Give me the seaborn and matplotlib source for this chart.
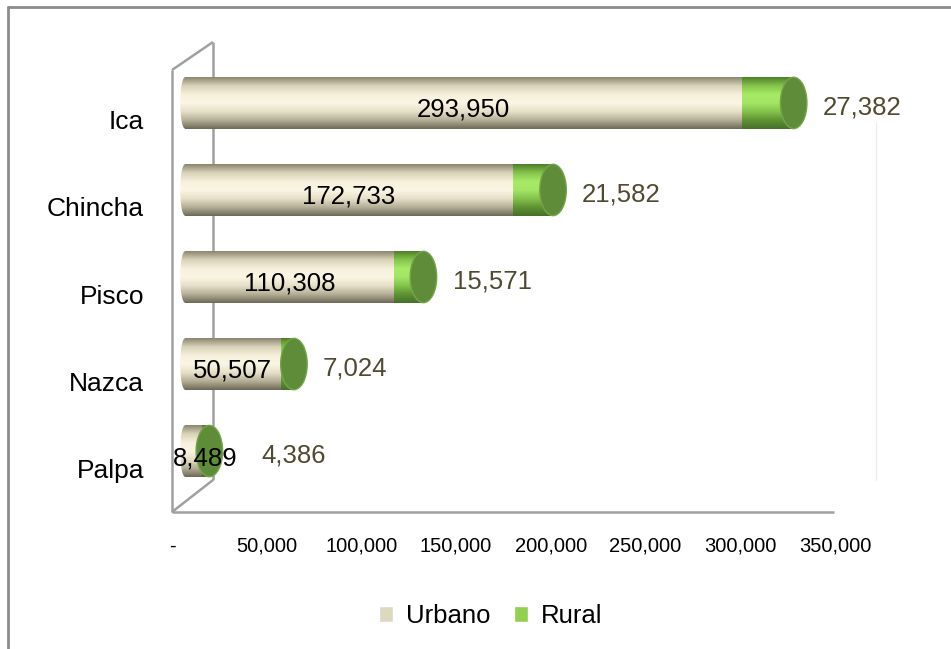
import numpy as np
import pandas as pd
import matplotlib
matplotlib.use("Agg")
import matplotlib.pyplot as plt
import seaborn as sns
from matplotlib.colors import LinearSegmentedColormap
from matplotlib.patches import Ellipse, Patch
from matplotlib.transforms import ScaledTranslation
from matplotlib.lines import Line2D

# Datos
provincias = ["Ica", "Chincha", "Pisco", "Nazca", "Palpa"]
urbano = [293950, 172733, 110308, 50507, 8489]
rural = [27382, 21582, 15571, 7024, 4386]
xticks = [0, 50000, 100000, 150000, 200000, 250000, 300000, 350000]
xtick_labels = ["-", "50,000", "100,000", "150,000", "200,000", "250,000", "300,000", "350,000"]

df = pd.DataFrame({"provincia": provincias, "urbano": urbano, "rural": rural})
df["total"] = df["urbano"] + df["rural"]

# Colores con degradado para simular cilindros
beige_cmap = LinearSegmentedColormap.from_list(
    "beige", ["#8a866e", "#d8d2b8", "#f6f0dc", "#fbf6e4", "#e6e0c8", "#b4ae96", "#6c6856"])
green_cmap = LinearSegmentedColormap.from_list(
    "green", ["#4f7e28", "#86c44c", "#a6ea66", "#a2e664", "#84c24c", "#5e9232", "#46702a"])
cap_color = "#5f8c38"
gray = "#a0a0a0"
cap_w = 14000
left_w = 5000

sns.set_style("white")
plt.rcParams["font.family"] = ["Liberation Sans", "DejaVu Sans"]

fig = plt.figure(figsize=(9.51, 6.49), dpi=100)
W, H = 951, 649
ax = fig.add_axes([171.7 / W, 1 - 512 / H, 704.7 / W, 470 / H])


def shade(ax, patch, cmap, z):
    x0, y0 = patch.get_x(), patch.get_y()
    w, h = patch.get_width(), patch.get_height()
    grad = np.linspace(0, 1, 256).reshape(-1, 1)
    im = ax.imshow(grad, cmap=cmap, aspect="auto", origin="upper",
                   extent=(x0, x0 + w, y0 + h, y0), zorder=z)
    im.set_clip_path(patch)
    patch.set_facecolor("none")
    patch.set_edgecolor("none")


def shade_ellipse(ax, ell, cmap, z):
    cx, cy = ell.center
    grad = np.linspace(0, 1, 256).reshape(-1, 1)
    im = ax.imshow(grad, cmap=cmap, aspect="auto", origin="upper",
                   extent=(cx - ell.width / 2, cx + ell.width / 2, cy + ell.height / 2, cy - ell.height / 2),
                   zorder=z)
    im.set_clip_path(ell)
    ell.set_facecolor("none")


bar_h = 0.59
sns.barplot(data=df, y="provincia", x="total", orient="h", width=bar_h, color="#92d050", ax=ax)
n = len(ax.patches)
sns.barplot(data=df, y="provincia", x="urbano", orient="h", width=bar_h, color="#ddd8c0", ax=ax)
green_bars = ax.patches[:n]
beige_bars = ax.patches[n:]

for i, p in enumerate(green_bars):
    shade(ax, p, green_cmap, 2)
for i, p in enumerate(beige_bars):
    shade(ax, p, beige_cmap, 3)
    # extremo izquierdo redondeado
    left = Ellipse((0, i), left_w, bar_h, facecolor="none", edgecolor="none", zorder=1.5)
    ax.add_patch(left)
    shade_ellipse(ax, left, beige_cmap, 1.5)

for i, tot in enumerate(df["total"]):
    cap = Ellipse((tot, i), cap_w, bar_h, facecolor=cap_color, edgecolor="#74a448", lw=1.0, zorder=4)
    ax.add_patch(cap)

# Etiquetas de valores
for i, row in df.iterrows():
    ax.annotate(f"{row['urbano']:,}", xy=(max(row["urbano"] / 2, 10500), i), xytext=(0, -5),
                textcoords="offset points", ha="center", va="center", fontsize=18.5,
                color="black", zorder=6)
    ax.annotate(f"{row['rural']:,}", xy=(max(row["total"], 25000), i), xytext=(21, -3),
                textcoords="offset points", ha="left", va="center", fontsize=18.5,
                color="#4f4a30", zorder=6)

ax.set_xlim(-7000, 365000)
ax.set_ylim(4.70, -0.70)
ax.set_xticks(xticks)
ax.set_xticklabels(xtick_labels, fontsize=14.5)
ax.tick_params(axis="x", length=0, pad=18, labelcolor="black")
ax.tick_params(axis="y", length=0, pad=20, labelsize=19, labelcolor="black")
ax.set_xlabel("")
ax.set_ylabel("")
for s in ax.spines.values():
    s.set_visible(False)

for lab in ax.get_xticklabels():
    lab.set_transform(lab.get_transform() + ScaledTranslation(-13 / 100, 0, fig.dpi_scale_trans))
for lab in ax.get_yticklabels():
    lab.set_transform(lab.get_transform() + ScaledTranslation(0, -17 / 100, fig.dpi_scale_trans))

# Marco 3D (pared y piso)
fx = lambda px: (px - 171.7) / 704.7
fy = lambda py: (512 - py) / 470
frame = [
    ([172, 834], [512, 512]),
    ([172, 172], [70, 512]),
    ([172, 213], [70, 42]),
    ([213, 213], [42, 480]),
    ([172, 213], [512, 480]),
]
for xs, ys in frame:
    ax.plot([fx(v) for v in xs], [fy(v) for v in ys], color=gray, lw=1.8,
            transform=ax.transAxes, clip_on=False, zorder=1, solid_capstyle="butt")
ax.plot([fx(876), fx(876)], [fy(480), fy(123)], color="#ebebeb", lw=0.8,
        transform=ax.transAxes, clip_on=False, zorder=0.5)

# Borde de la figura
fig.add_artist(Line2D([8 / W, 8 / W], [0, 1 - 7 / H], color="#8c8c8c", lw=2, transform=fig.transFigure))
fig.add_artist(Line2D([8 / W, 1], [1 - 7 / H, 1 - 7 / H], color="#8c8c8c", lw=2, transform=fig.transFigure))

handles = [Patch(facecolor="#ddd8c0", label="Urbano"), Patch(facecolor="#92d050", label="Rural")]
leg = fig.legend(handles=handles, loc="center", bbox_to_anchor=(0.516, 0.051), ncol=2, frameon=False,
                 fontsize=18.5, handlelength=0.55, handleheight=0.55, handletextpad=0.5, columnspacing=0.9)
for t in leg.get_texts():
    t.set_color("black")

fig.savefig("out.png", dpi=100)
